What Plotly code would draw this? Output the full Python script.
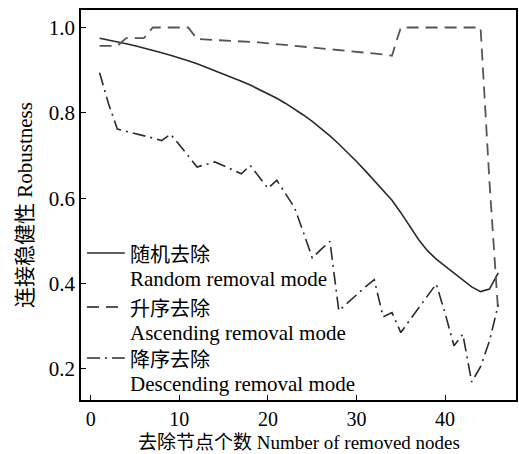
import plotly.graph_objects as go

# Number of removed nodes
removed_nodes = list(range(1, 47))

# Robustness under random removal
random_removal = [
    0.975, 0.971, 0.967, 0.962, 0.957, 0.952, 0.947, 0.941, 0.935, 0.929,
    0.922, 0.915, 0.907, 0.899, 0.891, 0.883, 0.874, 0.865, 0.855, 0.845,
    0.834, 0.822, 0.809, 0.795, 0.780, 0.764, 0.746, 0.727, 0.707, 0.686,
    0.664, 0.641, 0.617, 0.595, 0.566, 0.533, 0.503, 0.477, 0.457, 0.441,
    0.424, 0.407, 0.392, 0.381, 0.387, 0.425,
]

# Robustness under ascending-degree removal
ascending_removal = [
    0.957, 0.957, 0.957, 0.975, 0.975, 0.975, 1.000, 1.000, 1.000, 1.000,
    1.000, 0.973, 0.972, 0.971, 0.970, 0.969, 0.967, 0.966, 0.965, 0.963,
    0.961, 0.959, 0.957, 0.956, 0.954, 0.952, 0.950, 0.948, 0.946, 0.944,
    0.942, 0.939, 0.937, 0.934, 1.000, 1.000, 1.000, 1.000, 1.000, 1.000,
    1.000, 1.000, 1.000, 1.000, 0.640, 0.330,
]

# Robustness under descending-degree removal
descending_removal = [
    0.894, 0.822, 0.762, 0.757, 0.752, 0.747, 0.741, 0.735, 0.750, 0.725,
    0.700, 0.673, 0.679, 0.685, 0.676, 0.666, 0.657, 0.677, 0.650, 0.623,
    0.642, 0.611, 0.578, 0.520, 0.460, 0.480, 0.499, 0.336, 0.355, 0.374,
    0.392, 0.409, 0.322, 0.332, 0.285, 0.314, 0.343, 0.371, 0.399, 0.330,
    0.254, 0.281, 0.169, 0.205, 0.265, 0.350,
]

series_cn = ["随机去除", "升序去除", "降序去除"]
series_en = ["Random removal mode", "Ascending removal mode", "Descending removal mode"]

x_tick_values = [0, 10, 20, 30, 40]
y_tick_values = [0.2, 0.4, 0.6, 0.8, 1.0]
y_tick_labels = ["0.2", "0.4", "0.6", "0.8", "1.0"]

FONT = "Liberation Serif, 'Times New Roman', 'Noto Sans CJK SC', serif"

W, H = 519, 454
M_L, M_R, M_T, M_B = 81, 1, 10, 54
PW, PH = W - M_L - M_R, H - M_T - M_B


def px_to_paper(px, py):
    """Convert figure pixel coordinates to paper coordinates of the plot area."""
    return (px - M_L) / PW, (H - M_B - py) / PH


styles = [
    dict(color="#2a2a2a", width=1.6, dash="solid"),
    dict(color="#555555", width=1.8, dash="12px,7px"),
    dict(color="#2a2a2a", width=1.6, dash="13px,5px,2px,5px"),
]

fig = go.Figure()
for name, values, style in zip(series_en, [random_removal, ascending_removal, descending_removal], styles):
    fig.add_trace(go.Scatter(
        x=removed_nodes, y=values, mode="lines", name=name,
        line=style, showlegend=False,
    ))

# Hand-built legend: line sample beside a Chinese label with English below
legend_rows_y = [253, 307, 358]
shapes, annotations = [], []
for row_y, cn, en, style in zip(legend_rows_y, series_cn, series_en, styles):
    x0, y0 = px_to_paper(87, row_y)
    x1, _ = px_to_paper(125, row_y)
    shapes.append(dict(type="line", xref="paper", yref="paper",
                       x0=x0, x1=x1, y0=y0, y1=y0, line=style))
    tx, ty_cn = px_to_paper(128, row_y + 2)
    _, ty_en = px_to_paper(128, row_y + 26)
    annotations.append(dict(text=cn, x=tx, y=ty_cn, xref="paper", yref="paper",
                            xanchor="left", yanchor="middle", showarrow=False,
                            font=dict(family=FONT, size=20, color="#000000")))
    annotations.append(dict(text=en, x=tx, y=ty_en, xref="paper", yref="paper",
                            xanchor="left", yanchor="middle", showarrow=False,
                            font=dict(family=FONT, size=21, color="#000000")))

# x-axis title placed at the bottom edge
annotations.append(dict(text="去除节点个数 Number of removed nodes",
                        x=0.5, y=px_to_paper(0, H)[1], xref="paper", yref="paper",
                        xanchor="center", yanchor="bottom", showarrow=False,
                        borderpad=0,
                        font=dict(family=FONT, size=19, color="#000000")))

axis_common = dict(
    showline=True, linecolor="#000000", linewidth=1.5, mirror=True,
    ticks="inside", ticklen=5, tickwidth=1.2, tickcolor="#000000",
    showgrid=False, zeroline=False,
)

fig.update_layout(
    width=W, height=H,
    margin=dict(l=M_L, r=M_R, t=M_T, b=M_B),
    paper_bgcolor="white", plot_bgcolor="white",
    font=dict(family=FONT, size=20, color="#000000"),
    showlegend=False,
    xaxis=dict(
        range=[-1.1, 48.0], tickvals=x_tick_values, ticklabelstandoff=0,
        tickfont=dict(family=FONT, size=20, color="#000000"),
        **axis_common,
    ),
    yaxis=dict(
        range=[0.127, 1.041], tickvals=y_tick_values, ticktext=y_tick_labels,
        tickfont=dict(family=FONT, size=21, color="#000000"),
        title=dict(text="连接稳健性 Robustness",
                   font=dict(family=FONT, size=21), standoff=10),
        **axis_common,
    ),
    shapes=shapes,
    annotations=annotations,
)

fig.write_html("out.html")
